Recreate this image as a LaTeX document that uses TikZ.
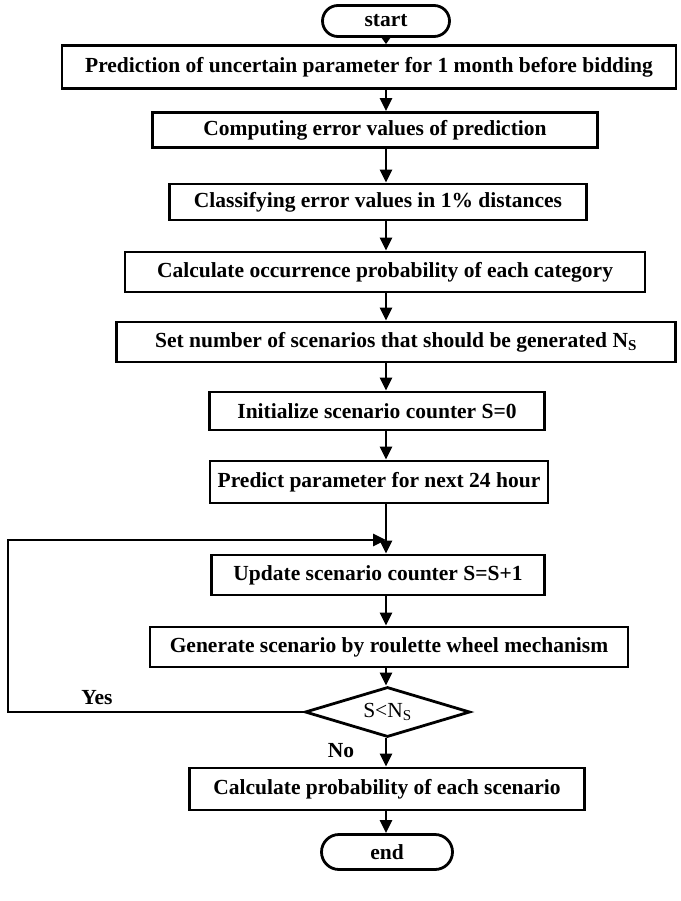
\documentclass[tikz,border=0pt]{standalone}
\usepackage{fontspec}
\setmainfont{Liberation Serif}
\usetikzlibrary{arrows.meta,shapes.geometric,shapes.misc}
\begin{document}
\begin{tikzpicture}[x=1pt,y=-1pt,
  every node/.style={font=\fontsize{21.5}{23}\selectfont\bfseries},
  proc/.style={draw,line width=2.8pt,rectangle,inner sep=0pt},
  term/.style={draw,line width=2.8pt,rounded rectangle,inner sep=0pt,minimum width=127pt,minimum height=32pt},
  arr/.style={line width=2.8pt,-{Triangle[length=13pt,width=12pt]}},
  lbl/.style={font=\fontsize{21.5}{23}\selectfont\bfseries}]
\useasboundingbox (0,0) rectangle (680,901);
\coordinate (col) at (386,0);
\node[term,minimum height=31pt] (start) at (386,21) {start};
\node[proc,minimum width=614pt,minimum height=43pt] (b1) at (369,67) {Prediction of uncertain parameter for 1 month before bidding};
\node[proc,minimum width=445pt,minimum height=35pt] (b2) at (375,130) {Computing error values of prediction};
\node[proc,minimum width=417pt,minimum height=36pt] (b3) at (378,202) {Classifying error values in 1\% distances};
\node[proc,minimum width=520pt,minimum height=40pt] (b4) at (385,272) {Calculate occurrence probability of each category};
\node[proc,minimum width=559pt,minimum height=40pt] (b5) at (396,342) {Set number of scenarios that should be generated N\textsubscript{S}};
\node[proc,minimum width=335pt,minimum height=38pt] (b6) at (377,411) {Initialize scenario counter S=0};
\node[proc,minimum width=338pt,minimum height=42pt] (b7) at (379,482) {Predict parameter for next 24 hour};
\node[proc,minimum width=333pt,minimum height=40pt] (b8) at (378,575) {Update scenario counter S=S+1};
\node[proc,minimum width=478pt,minimum height=40pt] (b9) at (389,647) {Generate scenario by roulette wheel mechanism};
\node[draw,line width=2.8pt,diamond,aspect=3.3,inner sep=0pt,minimum width=165pt,minimum height=50pt,font=\fontsize{21.5}{23}\selectfont] (dec) at (387.5,712) {S{<}N\textsubscript{S}};
\node[proc,minimum width=395pt,minimum height=42pt] (b10) at (387,789) {Calculate probability of each scenario};
\node[term,minimum width=131pt,minimum height=35pt] (end) at (387,852) {end};
\coordinate (lp1) at (8,712);
\coordinate (lp2) at (8,540);
\coordinate (lp3) at (386,540);
\node[lbl] (yes) at (97,698) {Yes};
\node[lbl] (no) at (341,751) {No};
\draw[line width=2.8pt,-{Triangle[length=9pt,width=12pt]}] (start.south -| col) -- (b1.north -| col);
\draw[arr] (b1.south -| col) -- (b2.north -| col);
\draw[arr] (b2.south -| col) -- (b3.north -| col);
\draw[arr] (b3.south -| col) -- (b4.north -| col);
\draw[arr] (b4.south -| col) -- (b5.north -| col);
\draw[arr] (b5.south -| col) -- (b6.north -| col);
\draw[arr] (b6.south -| col) -- (b7.north -| col);
\draw[arr] (b7.south -| col) -- (b8.north -| col);
\draw[arr] (b8.south -| col) -- (b9.north -| col);
\draw[arr] (b9.south -| col) -- (dec.north -| col);
\draw[arr] (dec.south -| col) -- (b10.north -| col);
\draw[arr] (b10.south -| col) -- (end.north -| col);
\draw[arr] (dec.west) -- (lp1) -- (lp2) -- (lp3);
\end{tikzpicture}
\end{document}
